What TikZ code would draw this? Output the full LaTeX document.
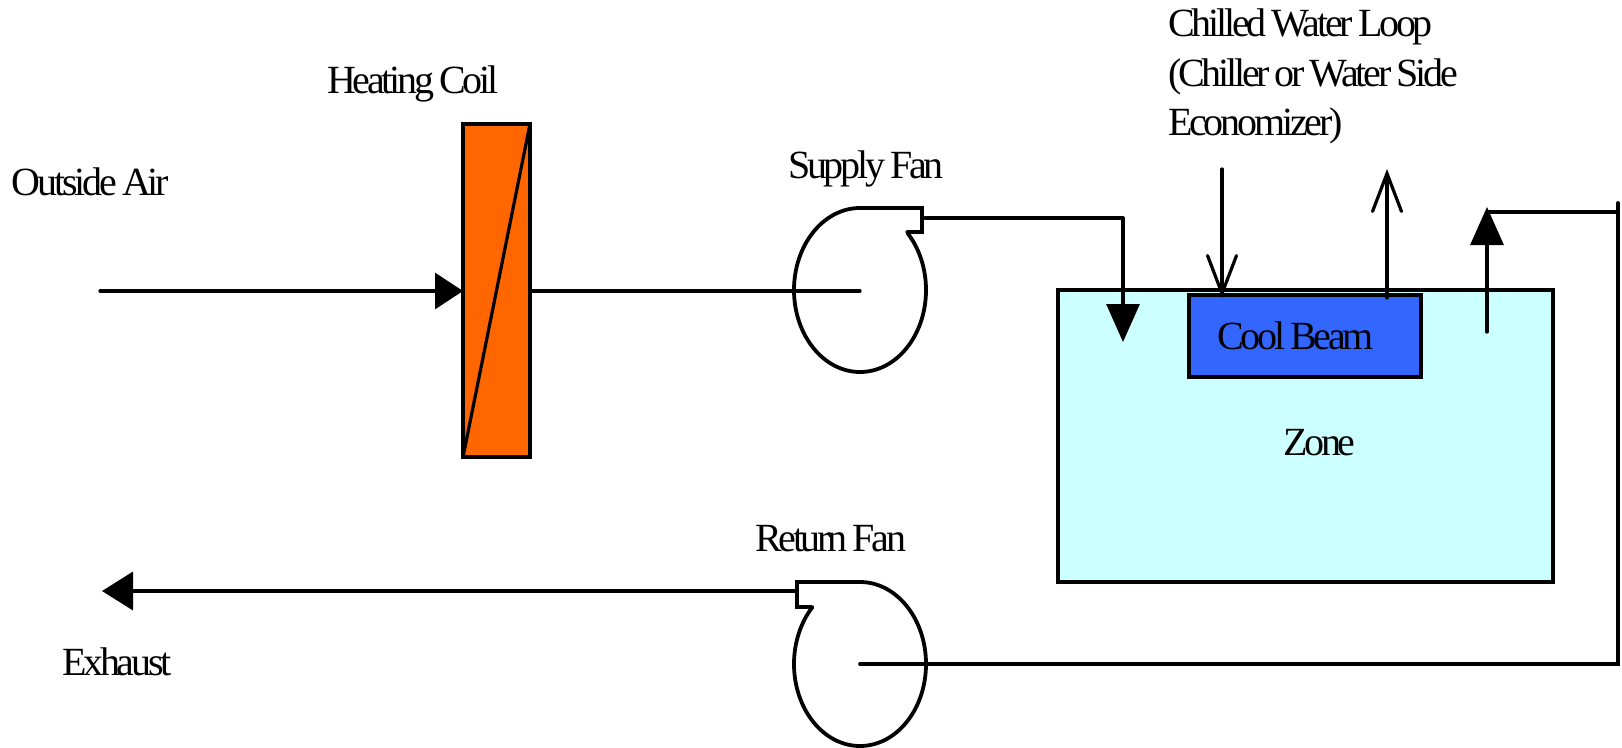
\documentclass[tikz,border=0pt]{standalone}
\usepackage{fontspec}
\setmainfont[LetterSpace=-8,WordSpace=0.72]{Liberation Serif}
\usetikzlibrary{arrows.meta}
\definecolor{zonefill}{HTML}{CCFFFF}
\definecolor{beamfill}{HTML}{3366FF}
\definecolor{coilfill}{HTML}{FF6600}
\tikzset{
  lbl/.style={anchor=base west,inner sep=0,outer sep=0,font=\fontsize{40}{49}\selectfont,text=black},
  ln/.style={line width=3.2pt,draw=black,line cap=round,line join=miter},
  fanline/.style={line width=3.8pt,draw=black,line cap=round,line join=miter},
  box/.style={draw=black,line width=3.6pt,inner sep=0,outer sep=0},
  solidtip/.style={-{Triangle[length=38pt,width=33pt]}},
  solidtiph/.style={-{Triangle[length=28pt,width=36pt]}},
  exhausttip/.style={-{Triangle[length=31pt,width=38pt]}},
  opentip/.style={-{Straight Barb[length=38pt,width=29pt,line cap=round]}}
}
\begin{document}
\begin{tikzpicture}[x=1pt,y=1pt,yscale=-1]
\useasboundingbox (0,0) rectangle (1622,747);
% boxes
\node[box,fill=zonefill,minimum width=495pt,minimum height=292pt] (zone) at (1305.5,436) {};
\node[box,fill=beamfill,minimum width=232pt,minimum height=82pt] (beam) at (1305,336) {};
\node[box,fill=coilfill,minimum width=67pt,minimum height=333pt] (coil) at (496.5,290.5) {};
\draw[ln] (coil.south west) -- (coil.north east);
% named points
\coordinate (inStart) at (100,291);
\coordinate (sfEye) at (860,291);
\coordinate (sfOut) at (925,218);
\coordinate (sfCorner) at (1123,218);
\coordinate (sfDrop) at (1123,342);
\coordinate (cwInTop) at (1222,169);
\coordinate (cwInEnd) at (1222,298);
\coordinate (cwOutStart) at (1387,298);
\coordinate (cwOutEnd) at (1387,169);
\coordinate (raStart) at (1487,332);
\coordinate (raTip) at (1487,207);
\coordinate (raTop) at (1487,212);
\coordinate (raCorner) at (1618,212);
\coordinate (raCornerTop) at (1618,203);
\coordinate (rfEye) at (860,664);
\coordinate (rfCorner) at (1618,664);
\coordinate (rfOut) at (795,591);
\coordinate (exTip) at (102,591);
% fans
\draw[fanline] (907,232) -- (922,232) -- (922,208) -- (860,208)
  arc[start angle=270,end angle=-44,x radius=66,y radius=82];
\draw[fanline] (812,607) -- (797,607) -- (797,582) -- (860,582)
  arc[start angle=-90,end angle=224,x radius=66,y radius=82];
% connectors
\draw[ln,solidtiph] (inStart) -- (coil.west |- inStart);
\draw[ln] (coil.east |- sfEye) -- (sfEye);
\draw[ln,solidtip] (sfCorner) -- (sfDrop);
\draw[ln] (sfOut) -- (sfCorner);
\draw[ln,opentip] (cwInTop) -- (cwInEnd);
\draw[ln,opentip] (cwOutStart) -- (cwOutEnd);
\draw[ln,solidtip] (raStart) -- (raTip);
\draw[ln] (raTop) -- (raCorner);
\draw[fanline] (raCornerTop) -- (rfCorner) -- (rfEye);
\draw[fanline,exhausttip] (rfOut) -- (exTip);
% labels
\node[lbl] (hc) at (327,93) {Heating Coil};
\node[lbl] (oa) at (12,195) {Outside Air};
\node[lbl] (sf) at (788,178) {Supply Fan};
\node[lbl] (rf) at (755,551) {Return Fan};
\node[lbl] (ex) at (62,675) {Exhaust};
\node[lbl] (cw1) at (1168,36) {Chilled Water Loop};
\node[lbl] (cw2) at (1168,86) {(Chiller or Water Side};
\node[lbl] (cw3) at (1168,135) {Economizer)};
\node[lbl] (cb) at (1217,349) {Cool Beam};
\node[lbl] (zn) at (1283,455) {Zone};
\end{tikzpicture}
\end{document}
